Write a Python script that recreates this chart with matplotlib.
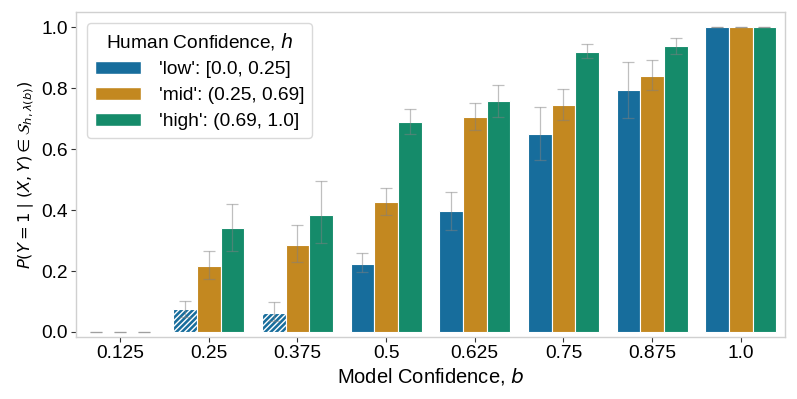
import matplotlib
import numpy as np

matplotlib.use("Agg")
import matplotlib.patches as mpatches
import matplotlib.pyplot as plt
import seaborn as sns

# -- Data ---------------------------------------------------------------------
MODEL_CONF = ["0.125", "0.25", "0.375", "0.5", "0.625", "0.75", "0.875", "1.0"]
GROUPS = ["low", "mid", "high"]
GROUP_LABELS = ["'low': [0.0, 0.25]", "'mid': (0.25, 0.69]", "'high': (0.69, 1.0]"]

LOW = [0.0, 0.074, 0.061, 0.223, 0.397, 0.650, 0.793, 1.0]
LOW_LO = [0.0, 0.050, 0.035, 0.196, 0.334, 0.565, 0.703, 1.0]
LOW_HI = [0.0, 0.101, 0.097, 0.259, 0.458, 0.739, 0.886, 1.0]

MID = [0.0, 0.216, 0.285, 0.426, 0.707, 0.744, 0.840, 1.0]
MID_LO = [0.0, 0.173, 0.230, 0.384, 0.664, 0.696, 0.795, 1.0]
MID_HI = [0.0, 0.265, 0.350, 0.473, 0.750, 0.796, 0.892, 1.0]

HIGH = [0.0, 0.340, 0.384, 0.689, 0.757, 0.919, 0.939, 1.0]
HIGH_LO = [0.0, 0.266, 0.292, 0.650, 0.706, 0.899, 0.912, 1.0]
HIGH_HI = [0.0, 0.419, 0.494, 0.732, 0.810, 0.945, 0.965, 1.0]

# bins with too few samples, drawn hatched
SPARSE = [("low", "0.25"), ("low", "0.375")]

plt.rcParams.update({
    "font.family": ["Liberation Sans", "DejaVu Sans"],
    "font.size": 13,
    "hatch.linewidth": 1.0,
})

colors = sns.color_palette("colorblind", 3, desat=0.75)
values = {"low": (LOW, LOW_LO, LOW_HI), "mid": (MID, MID_LO, MID_HI), "high": (HIGH, HIGH_LO, HIGH_HI)}

fig, ax = plt.subplots(figsize=(7.97, 3.99), dpi=100)
fig.subplots_adjust(left=0.095, right=0.985, bottom=0.155, top=0.97)

x = np.arange(len(MODEL_CONF))
width = 0.8 / len(GROUPS)
offsets = (np.arange(len(GROUPS)) - 1) * width

for g, off, col in zip(GROUPS, offsets, colors):
    mean, lo, hi = (np.array(v) for v in values[g])
    bars = ax.bar(x + off, mean, width, color=col, edgecolor="white", linewidth=0.8, zorder=2)
    for bar, cat in zip(bars, MODEL_CONF):
        if (g, cat) in SPARSE:
            bar.set_hatch("//////")
    ax.errorbar(x + off, mean, yerr=[mean - lo, hi - mean], fmt="none",
                ecolor="gray", alpha=0.5, elinewidth=0.9, capsize=4.5, capthick=0.9, zorder=3)

ax.set_xticks(x)
ax.set_xticklabels(MODEL_CONF)
ax.set_xlim(-0.5, len(MODEL_CONF) - 0.5)
ax.set_ylim(-0.017, 1.05)
ax.set_yticks([0.0, 0.2, 0.4, 0.6, 0.8, 1.0])
ax.set_xlabel("Model Confidence, $b$", fontsize=14.5, labelpad=3)
ax.set_ylabel(r"$P(Y=1 \mid (X,Y) \in \mathcal{S}_{h,\lambda(b)})$", fontsize=11.8)

for sp in ax.spines.values():
    sp.set_color("#d0d0d0")
    sp.set_linewidth(1.0)
ax.tick_params(axis="both", length=3.5, width=0.8, color="#333333", labelsize=13.8, pad=2)

handles = [mpatches.Patch(facecolor=c, edgecolor="white", label=l) for c, l in zip(colors, GROUP_LABELS)]
leg = ax.legend(handles=handles, title="Human Confidence, $h$", loc="upper left",
                fontsize=13.8, title_fontsize=13.8, handlelength=2.4, handletextpad=0.95,
                labelspacing=0.45, frameon=True, edgecolor="#d0d0d0", fancybox=True,
                borderaxespad=0.6)

fig.savefig("out.png", dpi=100)
